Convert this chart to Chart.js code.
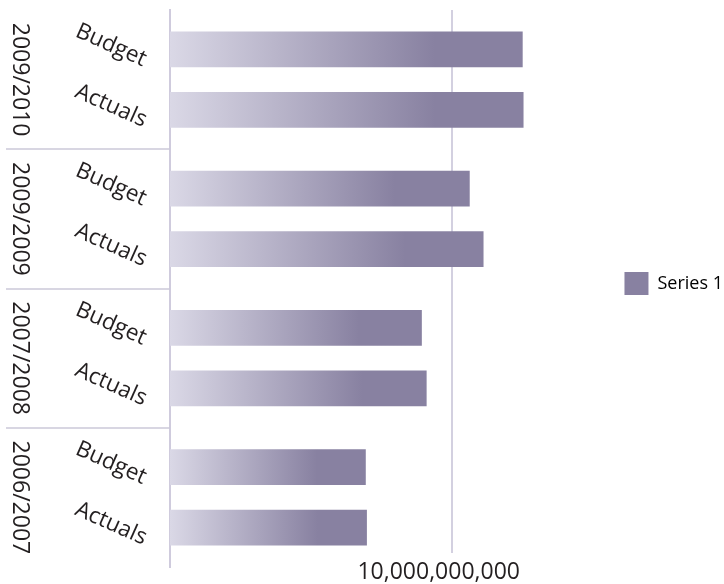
<!DOCTYPE html>
<html>
<head>
<meta charset="utf-8">
<script src="https://cdn.jsdelivr.net/npm/chart.js@4.4.1/dist/chart.umd.min.js"></script>
<style>
  html, body { margin: 0; padding: 0; background: #ffffff; }
</style>
</head>
<body>
<canvas id="budgetChart" width="724" height="584"></canvas>
<script>
// values, top group first
var years = ["2009/2010", "2009/2009", "2007/2008", "2006/2007"];
var rowLabels = ["Budget", "Actuals"];
var budget = [12.52e9, 10.64e9, 8.94e9, 6.95e9];
var actuals = [12.55e9, 11.13e9, 9.11e9, 6.99e9];
var xTicks = [10e9];
var seriesName = "Series 1";

var lightPurple = "#dad8e6";
var darkPurple = "#8881a1";
var lineColor = "#d3d0e0";
var textColor = "#231f20";

Chart.defaults.font.family = "'Open Sans', sans-serif";

// each bar fades from light at the axis to the dark tone about 3/4 along
function barFill(context) {
  const chart = context.chart;
  const xs = chart.scales.x;
  if (!chart.chartArea || !xs || context.type !== "data") return darkPurple;
  const x0 = xs.getPixelForValue(0);
  const x1 = xs.getPixelForValue(context.raw);
  const g = chart.ctx.createLinearGradient(x0, 0, x0 + (x1 - x0) * 0.75, 0);
  g.addColorStop(0, lightPurple);
  g.addColorStop(1, darkPurple);
  return g;
}

// year labels, row labels, group separators and the value gridline
const sideLabels = {
  id: "sideLabels",
  beforeDatasetsDraw(chart) {
    const ctx = chart.ctx;
    const xs = chart.scales.x;
    const area = chart.chartArea;
    ctx.save();
    ctx.strokeStyle = lineColor;
    ctx.lineWidth = 2;
    xTicks.forEach((v) => {
      const x = Math.round(xs.getPixelForValue(v));
      ctx.beginPath();
      ctx.moveTo(x, area.top);
      ctx.lineTo(x, area.bottom - 14);
      ctx.stroke();
    });
    ctx.restore();
  },
  afterDraw(chart) {
    const ctx = chart.ctx;
    const ys = chart.scales.y;
    const area = chart.chartArea;
    ctx.save();
    ctx.strokeStyle = "#cbc8d8";
    ctx.lineWidth = 1.5;
    for (let i = 1; i < years.length; i++) {
      const y = Math.round((ys.getPixelForValue(i - 1) + ys.getPixelForValue(i)) / 2);
      ctx.beginPath();
      ctx.moveTo(6, y);
      ctx.lineTo(area.left, y);
      ctx.stroke();
    }
    ctx.fillStyle = textColor;
    ctx.textAlign = "center";
    ctx.textBaseline = "middle";
    ctx.font = "23px 'Open Sans'";
    years.forEach((yr, i) => {
      ctx.save();
      ctx.translate(20, ys.getPixelForValue(i));
      ctx.rotate(Math.PI / 2);
      ctx.fillText(yr, 0, 0);
      ctx.restore();
    });
    ctx.font = "22.5px 'Open Sans'";
    rowLabels.forEach((lbl, d) => {
      chart.getDatasetMeta(d).data.forEach((bar) => {
        ctx.save();
        ctx.translate(111, bar.y - 4);
        ctx.rotate(24 * Math.PI / 180);
        ctx.fillText(lbl, 0, 0);
        ctx.restore();
      });
    });
    ctx.restore();
  },
};

const config = {
  type: "bar",
  data: {
    labels: years,
    datasets: [
      { label: rowLabels[0], data: budget, backgroundColor: barFill, borderWidth: 0 },
      { label: rowLabels[1], data: actuals, backgroundColor: barFill, borderWidth: 0 },
    ],
  },
  options: {
    indexAxis: "y",
    responsive: false,
    animation: false,
    categoryPercentage: 0.871,
    barPercentage: 0.59,
    layout: { padding: { left: 170, top: 0, right: -9, bottom: 17 } },
    scales: {
      x: {
        min: 0,
        max: 15.92e9,
        grid: { display: false, drawTicks: false },
        border: { display: false },
        afterBuildTicks: (scale) => {
          scale.ticks = xTicks.map((v) => ({ value: v }));
        },
        afterFit: (scale) => {
          scale.height = 0;
        },
        ticks: {
          // mirrored so the label is not clipped to the zero-height axis box
          mirror: true,
          padding: -19,
          labelOffset: -13,
          maxRotation: 0,
          color: textColor,
          font: { size: 23 },
          callback: (v) => Number(v).toLocaleString("en-US"),
        },
      },
      // empty strip above the plot so the legend can centre on the full height
      topGap: {
        type: "linear",
        position: "top",
        display: true,
        ticks: { display: false },
        grid: { display: false, drawTicks: false },
        border: { display: false },
        afterFit: (scale) => {
          scale.height = 10;
        },
      },
      y: {
        ticks: { display: false },
        grid: { display: false, drawTicks: false },
        border: { display: true, color: "#cfcbdd", width: 2 },
      },
    },
    plugins: {
      tooltip: { enabled: false },
      legend: {
        position: "right",
        labels: {
          boxWidth: 24,
          boxHeight: 23,
          padding: 6,
          color: textColor,
          font: { size: 18 },
          generateLabels: () => [
            { text: seriesName, fillStyle: darkPurple, strokeStyle: darkPurple, lineWidth: 0, datasetIndex: 0 },
          ],
        },
      },
    },
  },
  plugins: [sideLabels],
};

const budgetChart = new Chart(document.getElementById("budgetChart"), config);
</script>
</body>
</html>
